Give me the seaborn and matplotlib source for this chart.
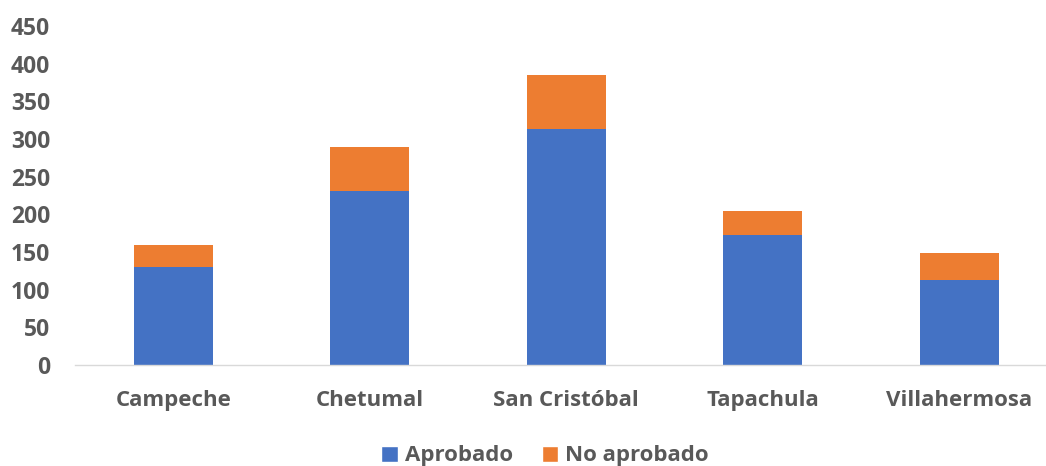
import matplotlib
matplotlib.use("Agg")
import matplotlib.pyplot as plt
import seaborn as sns
import pandas as pd
import numpy as np
from matplotlib.patches import Patch

categories = ["Campeche", "Chetumal", "San Cristóbal", "Tapachula", "Villahermosa"]
aprobado = [130, 231, 313, 173, 113]
no_aprobado = [29, 58, 72, 31, 36]
series_names = ["Aprobado", "No aprobado"]
yticks = [0, 50, 100, 150, 200, 250, 300, 350, 400, 450]

BLUE = "#4472C4"
ORANGE = "#ED7D31"
TXT = "#595959"

sns.set_theme(style="white")
plt.rcParams["font.family"] = ["Open Sans", "DejaVu Sans"]

df = pd.DataFrame({"cat": categories, "a": aprobado, "n": no_aprobado})
df["total"] = df["a"] + df["n"]

fig = plt.figure(figsize=(10.46, 4.66), dpi=100)
ax = fig.add_axes([75/1046, 1-365/466, (1046-75)/1046, (365-26)/466])

sns.barplot(data=df, x="cat", y="total", color=ORANGE, saturation=1, width=0.40, ax=ax, linewidth=0)
sns.barplot(data=df, x="cat", y="a", color=BLUE, saturation=1, width=0.40, ax=ax, linewidth=0)

ax.set_ylim(0, 450)
ax.set_xlim(-0.5, -0.5 + (1046-75)/196.5)
ax.set_yticks(yticks)
ax.set_yticklabels([str(t) for t in yticks])
ax.set_xlabel("")
ax.set_ylabel("")
for s in ["top", "right", "left"]:
    ax.spines[s].set_visible(False)
ax.spines["bottom"].set_color("#D9D9D9")
ax.spines["bottom"].set_linewidth(1.0)
ax.tick_params(axis="both", length=0, labelcolor=TXT)
ax.tick_params(axis="x", pad=18, labelsize=16)
ax.tick_params(axis="y", pad=18, labelsize=16.5)
for lab in ax.get_xticklabels() + ax.get_yticklabels():
    lab.set_fontweight("bold")
ax.grid(False)

handles = [Patch(facecolor=BLUE, label=series_names[0]), Patch(facecolor=ORANGE, label=series_names[1])]
leg = fig.legend(handles=handles, loc="center", bbox_to_anchor=(545/1046, 1-456/466), ncol=2,
                 frameon=False, handlelength=0.75, handleheight=0.75, handletextpad=0.3, columnspacing=1.3,
                 prop={"weight": "bold", "size": 16})
for t in leg.get_texts():
    t.set_color(TXT)

fig.savefig("out.png", dpi=100)
